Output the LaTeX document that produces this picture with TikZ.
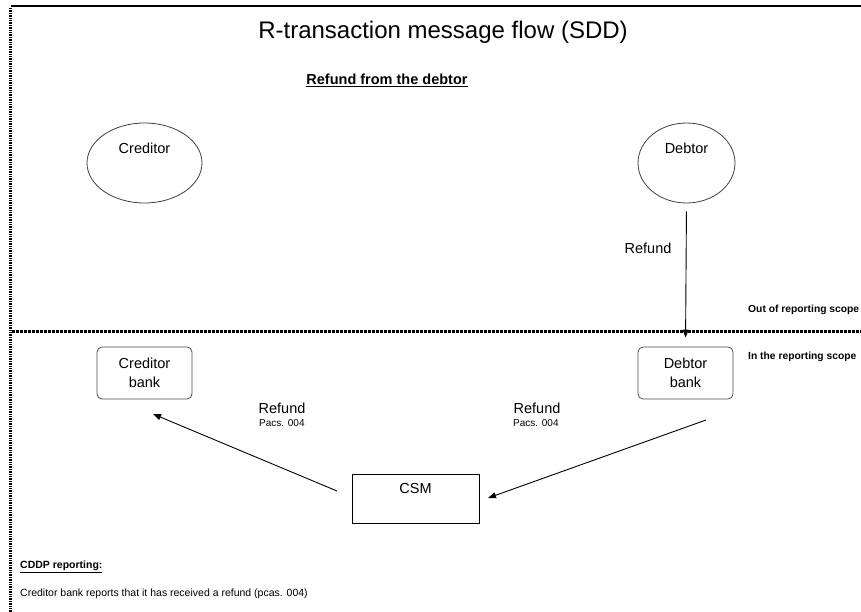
\documentclass[tikz,border=0pt]{standalone}
\usepackage{fontspec}
\setmainfont{Liberation Sans}
\usetikzlibrary{shapes.geometric,arrows.meta}
\tikzset{
  party/.style={draw=black!75, line width=0.8pt, ellipse, inner sep=0pt},
  bankbox/.style={draw=black!70, line width=0.8pt, rounded corners=5pt, minimum width=95pt, minimum height=52pt, inner sep=0pt, align=center, font=\fontsize{14.5}{19}\selectfont},
  csmbox/.style={draw=black, line width=0.9pt, minimum width=127pt, minimum height=49pt, inner sep=0pt},
  lbl/.style={inner sep=0pt, font=\fontsize{14.5}{17}\selectfont},
  small/.style={inner sep=0pt, font=\fontsize{10}{12}\selectfont},
  scope/.style={inner sep=0pt, anchor=west, font=\fontsize{10.3}{12}\selectfont\bfseries},
  arr/.style={draw=black, line width=0.9pt, -{Triangle[length=8pt,width=6pt]}},
}
\begin{document}
\begin{tikzpicture}[x=1pt,y=-1pt]
\useasboundingbox (0,0) rectangle (861,612);
\fill[white] (0,0) rectangle (861,612);
% frame lines
\draw[line width=2.5pt] (11,6.2) -- (861,6.2);
\draw[line width=3pt, dash pattern=on 1.4pt off 1pt] (10.5,8) -- (10.5,612);
\draw[line width=3pt, dash pattern=on 2.5pt off 1.5pt] (12,331) -- (861,331);
% titles
\node[inner sep=0pt, font=\fontsize{24}{28}\selectfont] (title) at (443,32) {R-transaction message flow (SDD)};
\node[inner sep=0pt, font=\fontsize{14.5}{17}\selectfont\bfseries] (sub) at (387,80) {\underline{Refund from the debtor}};
% parties
\node[party, minimum width=115pt, minimum height=80pt] (cred) at (144.5,163) {};
\node[lbl] (credt) at ([yshift=15pt]cred.center) {Creditor};
\node[party, minimum width=97pt, minimum height=80pt] (debt) at (686.5,163) {};
\node[lbl] (debtt) at ([yshift=15pt]debt.center) {Debtor};
% banks
\node[bankbox] (cbank) at (144.5,373) {Creditor\\bank};
\node[bankbox] (dbank) at (685.5,373) {Debtor\\bank};
\node[csmbox] (csm) at (415.5,498.5) {};
\node[lbl] (csmt) at ([yshift=9.5pt]csm.center) {CSM};
% scope labels
\node[scope] (out) at (748,310) {Out of reporting scope};
\node[scope] (in) at (748,357) {In the reporting scope};
% arrows
\draw[arr, shorten <=8pt, shorten >=9pt] (debt.south) -- (dbank.north);
\node[lbl] (r0) at (648,248) {Refund};
\coordinate (lt) at (337,491);
\coordinate (lh) at (153,414);
\draw[arr] (lt) -- (lh);
\coordinate (rt) at (706,420);
\coordinate (rh) at (488,498);
\draw[arr] (rt) -- (rh);
\node[lbl] (r1) at (282,408) {Refund};
\node[small, anchor=west] (p1) at (259,423) {Pacs. 004};
\node[lbl] (r2) at (537,408) {Refund};
\node[small, anchor=west] (p2) at (513,423) {Pacs. 004};
% reporting note
\node[inner sep=0pt, anchor=west, font=\fontsize{10.5}{12}\selectfont\bfseries] (cddp) at (20,567) {\underline{CDDP reporting:}};
\node[inner sep=0pt, anchor=west, font=\fontsize{10.5}{12}\selectfont] (note) at (20,594) {Creditor bank reports that it has received a refund (pcas. 004)};
\end{tikzpicture}
\end{document}
